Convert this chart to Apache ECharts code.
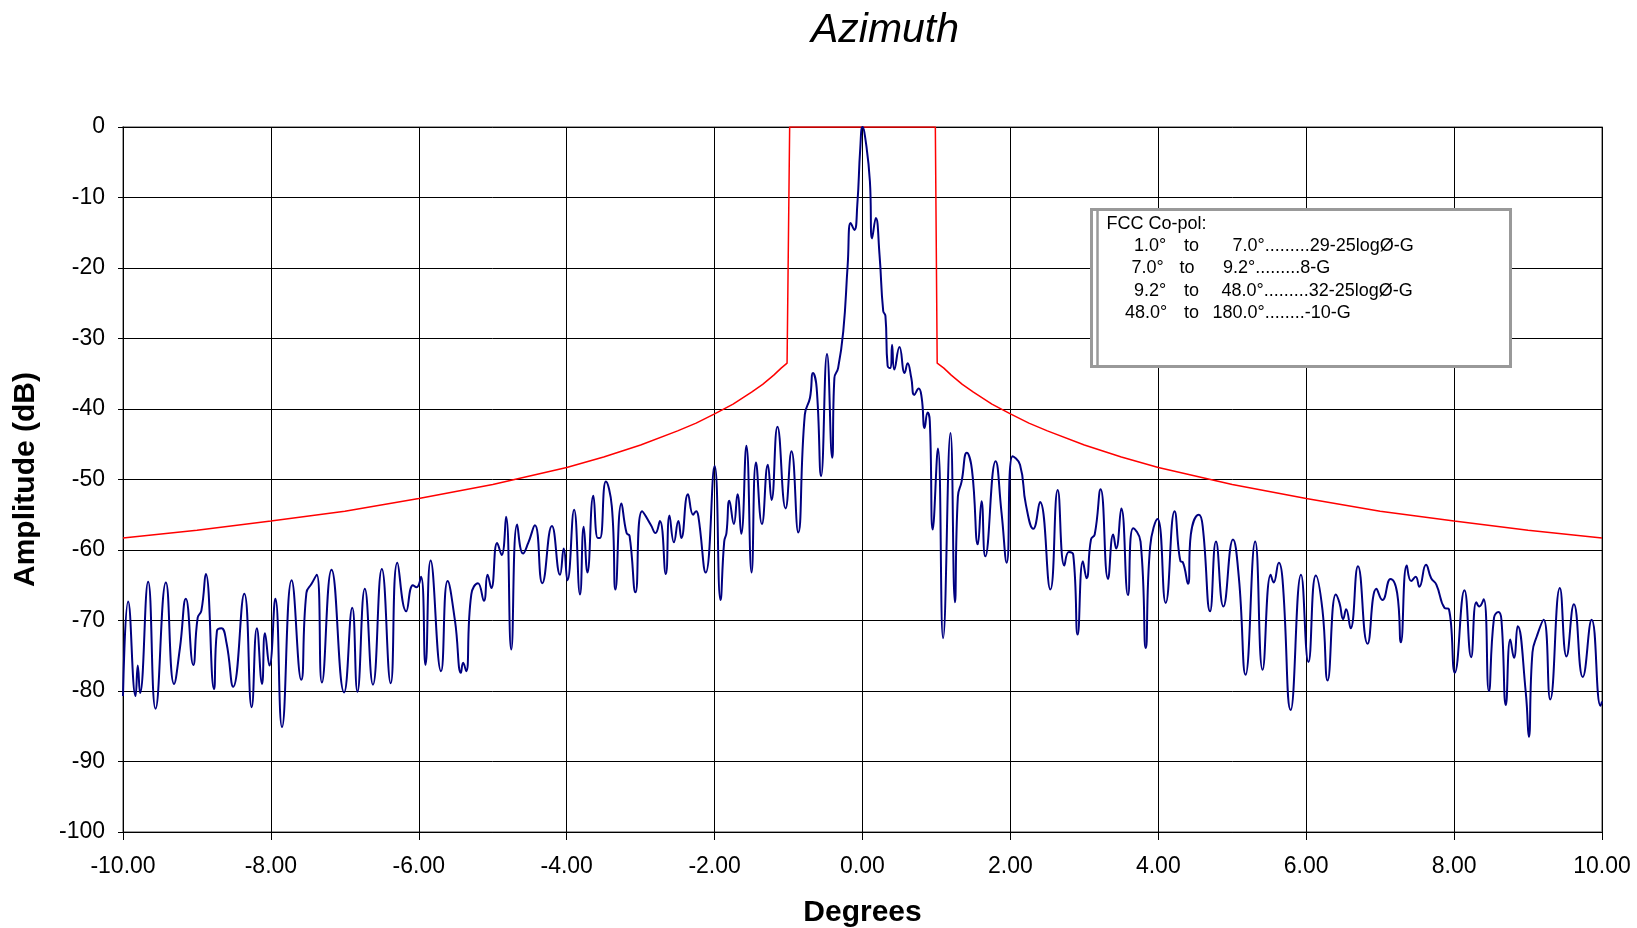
<!DOCTYPE html>
<html>
<head>
<meta charset="utf-8">
<script src="https://cdn.jsdelivr.net/npm/echarts@6/dist/echarts.min.js"></script>
<style>
  html, body { margin: 0; padding: 0; background: #fff; }
  #chart { width: 1637px; height: 928px; }
</style>
</head>
<body>
<div id="chart"></div>
<script>
const chartDom = document.getElementById('chart');
const myChart = echarts.init(chartDom);

const patternDeg = [
  -10.00, -9.93, -9.83, -9.80, -9.77, -9.66, -9.56, -9.42, -9.31, -9.23,
  -9.15, -9.05, -8.99, -8.94, -8.88, -8.77, -8.73, -8.67, -8.60, -8.51,
  -8.36, -8.26, -8.19, -8.12, -8.08, -8.02, -7.94, -7.85, -7.72, -7.59,
  -7.52, -7.45, -7.38, -7.31, -7.18, -7.01, -6.90, -6.83, -6.73, -6.62,
  -6.50, -6.38, -6.29, -6.17, -6.08, -6.03, -5.97, -5.91, -5.84, -5.70,
  -5.61, -5.51, -5.43, -5.40, -5.36, -5.29, -5.20, -5.12, -5.07, -5.02,
  -4.94, -4.88, -4.82, -4.75, -4.67, -4.59, -4.52, -4.43, -4.33, -4.20,
  -4.09, -4.04, -3.99, -3.90, -3.82, -3.77, -3.72, -3.64, -3.58, -3.55,
  -3.47, -3.39, -3.34, -3.26, -3.19, -3.15, -3.07, -2.98, -2.86, -2.80,
  -2.74, -2.66, -2.61, -2.55, -2.49, -2.45, -2.36, -2.29, -2.25, -2.22,
  -2.12, -2.00, -1.92, -1.87, -1.84, -1.80, -1.74, -1.69, -1.64, -1.57,
  -1.50, -1.44, -1.36, -1.28, -1.23, -1.15, -1.04, -0.96, -0.87, -0.78,
  -0.71, -0.67, -0.62, -0.56, -0.48, -0.41, -0.38, -0.33, -0.26, -0.20,
  -0.16, -0.11, -0.07, -0.03, 0.00, 0.05, 0.10, 0.13, 0.18, 0.23,
  0.28, 0.31, 0.34, 0.38, 0.40, 0.43, 0.50, 0.57, 0.61, 0.66,
  0.70, 0.76, 0.80, 0.84, 0.88, 0.91, 0.95, 1.02, 1.09, 1.19,
  1.25, 1.29, 1.34, 1.41, 1.48, 1.56, 1.61, 1.66, 1.80, 1.88,
  1.95, 2.03, 2.13, 2.21, 2.31, 2.40, 2.54, 2.64, 2.73, 2.79,
  2.85, 2.91, 2.98, 3.03, 3.09, 3.14, 3.22, 3.32, 3.39, 3.43,
  3.50, 3.59, 3.66, 3.76, 3.83, 3.89, 3.99, 4.10, 4.22, 4.30,
  4.33, 4.40, 4.44, 4.55, 4.60, 4.70, 4.78, 4.88, 5.01, 5.09,
  5.18, 5.31, 5.41, 5.52, 5.56, 5.63, 5.68, 5.79, 5.93, 6.03,
  6.13, 6.22, 6.29, 6.40, 6.45, 6.50, 6.54, 6.60, 6.70, 6.83,
  6.95, 7.03, 7.14, 7.23, 7.28, 7.36, 7.42, 7.48, 7.53, 7.62,
  7.69, 7.76, 7.87, 7.93, 8.01, 8.14, 8.23, 8.30, 8.34, 8.40,
  8.47, 8.54, 8.60, 8.64, 8.70, 8.76, 8.81, 8.86, 8.97, 9.01,
  9.06, 9.12, 9.21, 9.30, 9.43, 9.52, 9.62, 9.74, 9.86, 9.98,
  10.00
];
const patternDb = [
  -80.7, -67.3, -80.7, -76.4, -80.3, -64.5, -82.5, -64.6, -79.0, -73.9,
  -66.9, -76.3, -69.6, -68.6, -63.4, -79.7, -71.5, -71.1, -73.2, -79.4,
  -66.2, -82.3, -71.1, -79.0, -71.8, -76.4, -66.9, -85.1, -64.3, -78.4,
  -66.1, -64.8, -63.5, -78.8, -62.8, -80.2, -68.2, -80.1, -65.5, -79.1,
  -62.7, -78.9, -61.8, -68.7, -65.0, -65.3, -63.8, -76.3, -61.5, -77.2,
  -64.4, -70.1, -77.4, -76.0, -77.2, -66.3, -64.7, -67.2, -63.5, -65.4,
  -59.0, -60.7, -55.3, -74.1, -56.4, -60.5, -59.0, -56.5, -64.7, -56.6,
  -63.5, -59.8, -64.3, -54.3, -66.3, -56.7, -63.2, -52.3, -58.3, -58.3,
  -50.3, -53.8, -65.6, -53.4, -57.6, -58.0, -66.0, -54.5, -56.5, -57.6,
  -55.9, -63.4, -55.1, -58.9, -55.9, -58.3, -52.1, -55.0, -54.5, -55.2,
  -63.2, -48.1, -67.1, -58.8, -57.6, -53.0, -56.3, -52.1, -57.7, -45.2,
  -63.2, -47.6, -56.3, -47.9, -52.9, -42.5, -54.1, -46.0, -57.5, -40.8,
  -38.4, -34.9, -37.0, -49.5, -32.2, -46.9, -35.6, -34.2, -29.0, -19.5,
  -13.6, -14.6, -11.0, -3.0, 0.0, -2.5, -7.7, -15.8, -12.9, -18.1,
  -26.1, -26.8, -33.9, -34.2, -30.9, -34.4, -31.2, -34.9, -33.5, -35.6,
  -38.0, -37.1, -38.4, -42.7, -40.5, -41.7, -57.1, -45.6, -72.5, -43.4,
  -67.4, -52.4, -50.3, -46.2, -48.6, -59.2, -53.1, -60.9, -47.4, -54.7,
  -61.8, -46.7, -47.9, -53.6, -57.0, -53.2, -65.6, -51.5, -62.2, -60.3,
  -60.7, -72.0, -61.6, -64.0, -58.5, -57.8, -51.4, -64.1, -57.8, -59.8,
  -54.1, -66.4, -56.9, -58.8, -73.9, -59.5, -55.6, -67.5, -54.5, -61.6,
  -61.7, -64.8, -57.8, -55.0, -56.6, -68.7, -58.8, -68.0, -58.5, -64.0,
  -77.7, -58.8, -77.0, -63.5, -64.6, -61.8, -64.2, -82.7, -63.5, -75.9,
  -63.6, -68.5, -78.5, -66.3, -67.5, -69.8, -68.4, -71.1, -62.3, -73.3,
  -65.5, -67.1, -64.1, -66.1, -73.1, -62.2, -64.4, -63.8, -65.2, -62.1,
  -64.0, -64.9, -68.2, -68.4, -77.4, -65.7, -75.2, -67.4, -68.0, -67.0,
  -80.0, -69.6, -68.8, -69.9, -82.0, -72.7, -75.3, -70.8, -80.3, -86.5,
  -74.5, -72.2, -69.9, -81.2, -65.4, -75.1, -67.7, -78.0, -69.9, -82.1,
  -81.5
];

// FCC co-pol mask envelope (degrees, dB)
const maskDeg = [
  -10, -9, -8, -7, -6, -5, -4.5, -4, -3.5, -3, -2.5, -2.25, -2, -1.75, -1.5, -1.35, -1.2, -1.1, -1.02, -0.985,
  0.985, 1.01, 1.1, 1.2, 1.35, 1.5, 1.75, 2, 2.25, 2.5, 3, 3.5, 4, 4.5, 5, 6, 7, 8, 9, 10
];
const maskDb = [
  -58.3, -57.2, -55.9, -54.5, -52.7, -50.7, -49.5, -48.3, -46.8, -45.1, -43.1, -42.0, -40.7, -39.3, -37.6, -36.5, -35.2, -34.2, -33.5, 0,
  0, -33.5, -34.2, -35.2, -36.5, -37.6, -39.3, -40.7, -42.0, -43.1, -45.1, -46.8, -48.3, -49.5, -50.7, -52.7, -54.5, -55.9, -57.2, -58.3
];

const legendLines = [
  ['1.0°', 'to', '7.0°.........29-25logØ-G'],
  ['7.0°', 'to', '9.2°.........8-G'],
  ['9.2°', 'to', '48.0°.........32-25logØ-G'],
  ['48.0°', 'to', '180.0°........-10-G']
];

const FONT = '"Liberation Sans", Arial, sans-serif';

const patternData = patternDeg.map((d, i) => [d, patternDb[i]]);
const maskData = maskDeg.map((d, i) => [d, maskDb[i]]);

// legend text box, drawn as graphic elements
const colX = [[1134, 1184, 1232.5], [1131.5, 1179.5, 1223], [1134, 1184, 1221.5], [1125, 1184, 1212.5]];
const legendGraphic = [
  {
    type: 'rect',
    shape: { x: 1091.5, y: 209.5, width: 419, height: 157 },
    style: { fill: '#fff', stroke: '#999', lineWidth: 3 },
    z: 10
  },
  {
    type: 'line',
    shape: { x1: 1097.5, y1: 211, x2: 1097.5, y2: 365 },
    style: { stroke: '#999', lineWidth: 2.5 },
    z: 11
  },
  {
    type: 'text',
    x: 1106.5, y: 224,
    style: { text: 'FCC Co-pol:', font: '18px ' + FONT, fill: '#000', verticalAlign: 'middle' },
    z: 11
  }
];
legendLines.forEach(function (parts, row) {
  parts.forEach(function (txt, col) {
    legendGraphic.push({
      type: 'text',
      x: colX[row][col],
      y: 246 + row * 22.4,
      style: { text: txt, font: '18px ' + FONT, fill: '#000', verticalAlign: 'middle' },
      z: 11
    });
  });
});

const option = {
  animation: false,
  backgroundColor: '#fff',
  title: {
    text: 'Azimuth',
    left: 880,
    top: 5,
    textAlign: 'center',
    textStyle: { fontFamily: FONT, fontSize: 41, fontStyle: 'italic', fontWeight: 'normal', color: '#000' }
  },
  grid: {
    left: 123,
    right: 35,
    top: 127,
    bottom: 96,
    outerBoundsMode: 'none',
    containLabel: false,
    show: true,
    borderColor: '#808080',
    borderWidth: 1.5,
    backgroundColor: '#fff'
  },
  xAxis: {
    type: 'value',
    min: -10,
    max: 10,
    interval: 2,
    name: 'Degrees',
    nameLocation: 'middle',
    nameGap: 66,
    nameTextStyle: { fontFamily: FONT, fontSize: 30, fontWeight: 'bold', color: '#000' },
    axisLine: { onZero: false, lineStyle: { color: '#000', width: 1 } },
    axisTick: { show: true, length: 8, lineStyle: { color: '#000' } },
    axisLabel: {
      fontFamily: FONT, fontSize: 23, color: '#000', margin: 23,
      formatter: function (v) { return v.toFixed(2); }
    },
    splitLine: { show: true, lineStyle: { color: '#000', width: 1 } }
  },
  yAxis: {
    type: 'value',
    min: -100,
    max: 0,
    interval: 10,
    name: 'Amplitude (dB)',
    nameLocation: 'middle',
    nameGap: 82,
    nameRotate: 90,
    nameTextStyle: { fontFamily: FONT, fontSize: 30, fontWeight: 'bold', color: '#000' },
    axisLine: { show: true, onZero: false, lineStyle: { color: '#000', width: 1 } },
    axisTick: { show: true, length: 5, lineStyle: { color: '#000' } },
    axisLabel: { fontFamily: FONT, fontSize: 23, color: '#000', margin: 18 },
    splitLine: { show: true, lineStyle: { color: '#000', width: 1 } }
  },
  series: [
    {
      name: 'FCC mask',
      type: 'line',
      data: maskData,
      showSymbol: false,
      lineStyle: { color: '#ff0000', width: 1.5 },
      z: 3
    },
    {
      name: 'Azimuth pattern',
      type: 'line',
      data: patternData,
      showSymbol: false,
      smooth: 0.5,
      lineStyle: { color: '#000080', width: 2 },
      z: 4
    }
  ],
  graphic: legendGraphic
};

myChart.setOption(option);
</script>
</body>
</html>
